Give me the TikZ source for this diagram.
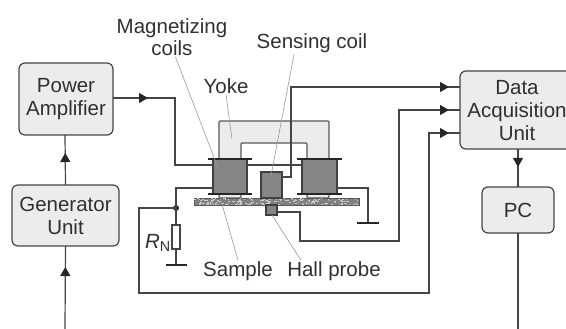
\documentclass[tikz,border=0pt]{standalone}
\usepackage{fontspec}
\setmainfont{Liberation Sans}
\usetikzlibrary{arrows.meta,decorations.markings}
\definecolor{boxgray}{HTML}{ECECEC}
\definecolor{linegray}{HTML}{454545}
\definecolor{coilgray}{HTML}{858585}
\definecolor{textgray}{HTML}{303030}
\tikzset{
    unitbox/.style={draw=linegray, fill=boxgray, line width=1.2pt, rounded corners=6pt, align=center,
        inner sep=0pt, outer sep=0pt, font=\fontsize{20.5}{23}\selectfont, text=textgray},
    caption/.style={align=center, inner sep=1pt, font=\fontsize{20.5}{22.5}\selectfont, text=textgray},
    coilbox/.style={draw=black!75, fill=coilgray, line width=1.2pt, inner sep=0pt, outer sep=0pt},
    wire/.style={draw=linegray, line width=1.2pt},
    leader/.style={draw=black!40, line width=0.6pt},
    flange/.style={draw=black!85, line width=2pt},
    earth/.style={draw=black!85, line width=2pt},
    arrowat/.style={postaction={decorate}, decoration={markings,
        mark=at position #1 with {\arrow[black!85]{Triangle[length=9pt,width=10pt]}}}}
}
\begin{document}
\begin{tikzpicture}[x=1pt,y=-1pt]
    \useasboundingbox (0,0) rectangle (566,329);

    % Units
    \node[unitbox, minimum width=94pt, minimum height=72pt] (amp) at (66,99) {Power\\Amplifier};
    \node[unitbox, minimum width=107pt, minimum height=61pt] (gen) at (65.5,215.5) {Generator\\Unit};
    \node[unitbox, minimum width=114pt, minimum height=78pt, text depth=0pt] (daq) at (517,110) {Data\\Acquisition\\Unit};
    \node[unitbox, minimum width=72pt, minimum height=46pt] (pc) at (518,210) {PC};

    % Yoke
    \draw[draw=black!65, fill=boxgray, line width=1.2pt, rounded corners=1pt]
        (219,198) -- (219,121) -- (329,121) -- (329,198) -- (307,198) -- (307,143) -- (241,143) -- (241,198) -- cycle;

    % Sample
    \node[draw=black!65, fill=black!50, line width=0.8pt, minimum width=165pt, minimum height=7pt,
        inner sep=0pt, outer sep=0pt] (sample) at (276.5,201.5) {};
    \pgfmathsetseed{7}
    \begin{scope}
        \clip (sample.north west) rectangle (sample.south east);
        \foreach \i in {1,...,220} {
            \pgfmathsetmacro{\xs}{194+165*rnd}
            \pgfmathsetmacro{\ys}{198+7*rnd}
            \fill[black!20] (\xs,\ys) rectangle +(1.5,1);
        }
    \end{scope}

    % Coils
    \node[coilbox, minimum width=34pt, minimum height=35pt] (leftcoil) at (230,177) {};
    \node[coilbox, minimum width=35pt, minimum height=35pt] (rightcoil) at (319.5,177) {};
    \node[coilbox, minimum width=21pt, minimum height=26pt] (sensecoil) at (271.5,185) {};
    \node[coilbox, minimum width=11pt, minimum height=10pt] (hall) at (271.5,210) {};
    \foreach \c in {leftcoil,rightcoil} {
        \draw[flange] ([xshift=-5pt]\c.north west) -- ([xshift=5pt]\c.north east);
        \draw[flange] ([xshift=-5pt]\c.south west) -- ([xshift=5pt]\c.south east);
    }

    % Resistor
    \node[draw=linegray, fill=white, line width=1.2pt, minimum width=8pt, minimum height=24pt,
        inner sep=0pt, outer sep=0pt] (rn) at (176,237) {};
    \node[caption] (rnlabel) at (158,243) {\textit{R}\textsubscript{N}};
    \fill[black!85] (176,208) circle (3pt);
    \node[inner sep=0pt, outer sep=0pt, minimum size=0pt] (dot) at (176,208) {};

    % Free ends of the wires
    \coordinate (input) at (65,329);
    \coordinate (output) at (518,329);
    \coordinate (ampturn) at (175,98);
    \coordinate (coiltop) at (175,165);
    \coordinate (coilbottom) at (176,188);
    \coordinate (earthleft) at (176,265);
    \coordinate (earthright) at (368,223);
    \coordinate (rightturn) at (368,188);
    \coordinate (senseturn) at (291,177);
    \coordinate (sensetop) at (291,87);
    \coordinate (hallturn) at (300,212);
    \coordinate (halldown) at (300,241);
    \coordinate (hallright) at (399,241);
    \coordinate (hallup) at (399,110);
    \coordinate (loopup) at (139,208);
    \coordinate (loopdown) at (139,293);
    \coordinate (loopright) at (429,293);
    \coordinate (loopend) at (429,133);

    % Wires
    \draw[wire, arrowat=62pt] (input) -- (gen.south);
    \draw[wire, arrowat=32pt] (gen.north) -- (input |- amp.south);
    \draw[wire, arrowat=35pt] (amp.east |- ampturn) -- (ampturn) -- (coiltop) -- (coiltop -| leftcoil.west);
    \draw[wire] (leftcoil.east |- coiltop) -- (rightcoil.west |- coiltop);
    \draw[wire] (leftcoil.west |- coilbottom) -- (coilbottom) -- (dot);
    \draw[wire] (dot) -- (rn.north);
    \draw[wire] (rn.south) -- (earthleft);
    \draw[wire] (rightcoil.east |- rightturn) -- (rightturn) -- (earthright);
    \draw[wire, arrowat=-11pt] (sensecoil.east |- senseturn) -- (senseturn) -- (sensetop) -- (sensetop -| daq.west);
    \draw[wire, arrowat=-11pt] (hall.east |- hallturn) -- (hallturn) -- (halldown) -- (hallright) -- (hallup) -- (hallup -| daq.west);
    \draw[wire, arrowat=-11pt] (dot) -- (loopup) -- (loopdown) -- (loopright) -- (loopend) -- (loopend -| daq.west);
    \draw[wire, arrowat=18pt] (daq.south -| pc.north) -- (pc.north);
    \draw[wire] (pc.south) -- (output);

    % Earth bars
    \draw[earth] ([xshift=-10.5pt]earthleft) -- ([xshift=10.5pt]earthleft);
    \draw[earth] ([xshift=-11pt]earthright) -- ([xshift=11pt]earthright);

    % Labels
    \node[caption] (maglabel) at (172,37) {Magnetizing\\coils};
    \node[caption] (senselabel) at (312,43) {Sensing coil};
    \node[caption] (yokelabel) at (226,86) {Yoke};
    \node[caption] (samplelabel) at (238,271) {Sample};
    \node[caption] (halllabel) at (334,271) {Hall probe};

    % Leaders
    \coordinate (magend) at (218,168);
    \coordinate (senseend) at (271,176);
    \coordinate (yokeend) at (232,139);
    \coordinate (sampleend) at (220,197);
    \coordinate (hallend) at (272,215);
    \draw[leader] (maglabel.-80) -- (magend);
    \draw[leader] (senselabel.-149) -- (senseend);
    \draw[leader] (yokelabel.south) -- (yokeend);
    \draw[leader] (samplelabel.north) -- (sampleend);
    \draw[leader] (halllabel.162) -- (hallend);
\end{tikzpicture}
\end{document}
